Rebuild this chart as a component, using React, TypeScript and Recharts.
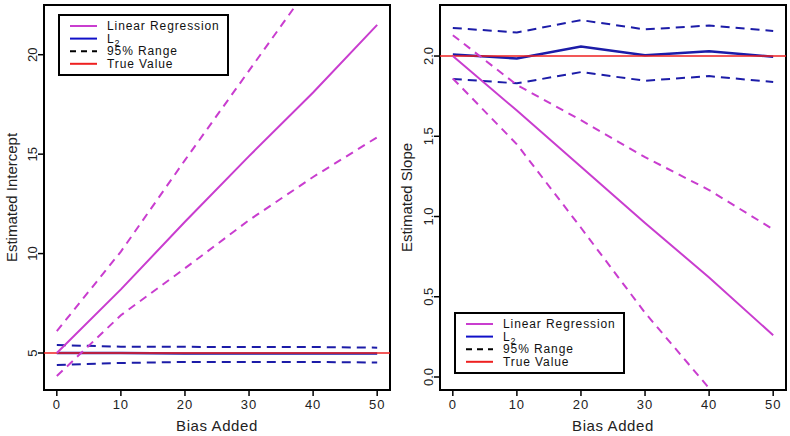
import {
  Legend,
  Line,
  LineChart,
  ReferenceArea,
  ReferenceLine,
  XAxis,
  YAxis,
} from "recharts"

const bias = [0, 10, 20, 30, 40, 50]

// intercept estimates
const lrIntercept = [5.0, 8.2, 11.6, 14.9, 18.1, 21.5]
const lrInterceptHi = [6.1, 10.1, 14.7, 19.2, 23.7, 28.0]
const lrInterceptLo = [3.84, 6.9, 9.26, 11.68, 13.85, 15.85]
const l2Intercept = [5.0, 5.0, 4.98, 4.98, 4.98, 4.98]
const l2InterceptHi = [5.4, 5.32, 5.31, 5.3, 5.3, 5.27]
const l2InterceptLo = [4.4, 4.5, 4.55, 4.55, 4.55, 4.52]

// slope estimates
const lrSlope = [2.0, 1.66, 1.31, 0.96, 0.62, 0.26]
const lrSlopeHi = [2.13, 1.82, 1.6, 1.37, 1.165, 0.92]
const lrSlopeLo = [1.86, 1.45, 0.93, 0.4, -0.07, -0.55]
const l2Slope = [2.01, 1.985, 2.06, 2.005, 2.03, 1.995]
const l2SlopeHi = [2.175, 2.147, 2.224, 2.166, 2.19, 2.156]
const l2SlopeLo = [1.857, 1.83, 1.9, 1.846, 1.875, 1.838]

const trueIntercept = 5
const trueSlope = 2

const xTicks = [0, 10, 20, 30, 40, 50]
const interceptTicks = [5, 10, 15, 20]
const slopeTicks = [0, 0.5, 1, 1.5, 2]

const MAGENTA = "#c93dcf"
const BLUE = "#1c1ca8"
const RED = "#ee2020"
const FONT = "'Liberation Sans', Arial, sans-serif"

const interceptRows = bias.map((b, i) => ({
  bias: b,
  lr: lrIntercept[i],
  lrHi: lrInterceptHi[i],
  lrLo: lrInterceptLo[i],
  l2: l2Intercept[i],
  l2Hi: l2InterceptHi[i],
  l2Lo: l2InterceptLo[i],
}))

const slopeRows = bias.map((b, i) => ({
  bias: b,
  lr: lrSlope[i],
  lrHi: lrSlopeHi[i],
  lrLo: lrSlopeLo[i],
  l2: l2Slope[i],
  l2Hi: l2SlopeHi[i],
  l2Lo: l2SlopeLo[i],
}))

const legendItems = [
  { label: "Linear Regression", sub: "", color: MAGENTA, dash: "" },
  { label: "L", sub: "2", color: "#1010c8", dash: "" },
  { label: "95% Range", sub: "", color: "#000", dash: "6 5" },
  { label: "True Value", sub: "", color: RED, dash: "" },
]

// legend drawn as svg so every row sits on a fixed baseline
function LegendBox() {
  const rowY = [12, 24.6, 37.2, 49.8]
  return (
    <svg width={171} height={62} style={{ display: "block" }}>
      <rect x={1} y={1} width={169} height={60} fill="#fff" stroke="#000" strokeWidth={2} />
      {legendItems.map((it, i) => (
        <g key={it.label}>
          <line
            x1={12}
            x2={39}
            y1={rowY[i]}
            y2={rowY[i]}
            stroke={it.color}
            strokeWidth={2}
            strokeDasharray={it.dash || undefined}
          />
          <text
            x={49}
            y={rowY[i] + 4}
            fontFamily={FONT}
            fontSize={12}
            letterSpacing={0.9}
            fill="#111"
          >
            {it.label}
            {it.sub && (
              <tspan fontSize={9} dy={3}>
                {it.sub}
              </tspan>
            )}
          </text>
        </g>
      ))}
    </svg>
  )
}

function RotatedTick(props: any) {
  const { x, y, payload, fmt } = props
  return (
    <text
      x={x + 1}
      y={y}
      transform={`rotate(-90 ${x + 1} ${y})`}
      textAnchor="middle"
      fontFamily={FONT}
      fontSize={13}
      fill="#222"
    >
      {fmt(payload.value)}
    </text>
  )
}

function YTitle({ text }: { text: string }) {
  return (props: any) => {
    const vb = props.viewBox
    const cx = vb.x + 17
    const cy = vb.y + vb.height / 2
    return (
      <text
        x={cx}
        y={cy}
        transform={`rotate(-90 ${cx} ${cy})`}
        textAnchor="middle"
        fontFamily={FONT}
        fontSize={15}
        fill="#222"
      >
        {text}
      </text>
    )
  }
}

type PanelProps = {
  rows: any[]
  domain: [number, number]
  ticks: number[]
  fmt: (v: number) => string
  title: string
  truth: number
  legendLeft: number
  legendTop: number
  yWidth: number
  right: number
}

function Panel({
  rows,
  domain,
  ticks,
  fmt,
  title,
  truth,
  legendLeft,
  legendTop,
  yWidth,
  right,
}: PanelProps) {
  return (
    <LineChart
      width={395}
      height={436}
      data={rows}
      margin={{ top: 5, right, bottom: 0, left: 0 }}
    >
      <XAxis
        dataKey="bias"
        type="number"
        domain={[-2, 52]}
        ticks={xTicks}
        axisLine={false}
        tickLine={{ stroke: "#000", strokeWidth: 1.5 }}
        tickSize={6}
        tickMargin={4}
        height={46}
        tick={{
          fill: "#222",
          fontFamily: FONT,
          fontSize: 13,
          letterSpacing: 1,
        }}
        label={{
          value: "Bias Added",
          position: "insideBottom",
          offset: 5,
          fill: "#222",
          fontFamily: FONT,
          fontSize: 15,
          letterSpacing: 0.6,
        }}
      />
      <YAxis
        type="number"
        domain={domain}
        allowDataOverflow
        ticks={ticks}
        width={yWidth}
        axisLine={false}
        tickLine={{ stroke: "#000", strokeWidth: 1.5 }}
        tickSize={6}
        tickMargin={2}
        tick={<RotatedTick fmt={fmt} />}
        label={{ content: YTitle({ text: title }) }}
      />
      <Line
        dataKey="l2"
        stroke={BLUE}
        strokeWidth={2.5}
        dot={false}
        isAnimationActive={false}
      />
      <Line
        dataKey="l2Hi"
        stroke={BLUE}
        strokeWidth={2}
        strokeDasharray="9 6"
        dot={false}
        isAnimationActive={false}
      />
      <Line
        dataKey="l2Lo"
        stroke={BLUE}
        strokeWidth={2}
        strokeDasharray="9 6"
        dot={false}
        isAnimationActive={false}
      />
      <ReferenceLine y={truth} stroke={RED} strokeWidth={1.5} />
      <Line
        dataKey="lr"
        stroke={MAGENTA}
        strokeWidth={2}
        dot={false}
        isAnimationActive={false}
      />
      <Line
        dataKey="lrHi"
        stroke={MAGENTA}
        strokeWidth={2}
        strokeDasharray="8 6"
        dot={false}
        isAnimationActive={false}
      />
      <Line
        dataKey="lrLo"
        stroke={MAGENTA}
        strokeWidth={2}
        strokeDasharray="8 6"
        dot={false}
        isAnimationActive={false}
      />
      <ReferenceArea
        x1={-2}
        x2={52}
        y1={domain[0]}
        y2={domain[1]}
        fill="none"
        stroke="#000"
        strokeWidth={2}
        ifOverflow="visible"
      />
      <Legend
        layout="horizontal"
        verticalAlign="middle"
        align="center"
        wrapperStyle={{ left: legendLeft, top: legendTop, width: "auto" }}
        content={() => <LegendBox />}
      />
    </LineChart>
  )
}

export default function App() {
  return (
    <div
      style={{
        position: "absolute",
        left: 0,
        top: 0,
        width: 790,
        height: 436,
        background: "#fff",
        display: "flex",
      }}
    >
      <Panel
        rows={interceptRows}
        domain={[3.14, 22.5]}
        ticks={interceptTicks}
        fmt={(v) => String(v)}
        title="Estimated Intercept"
        truth={trueIntercept}
        legendLeft={58}
        legendTop={14}
        yWidth={44}
        right={5}
      />
      <Panel
        rows={slopeRows}
        domain={[-0.081, 2.318]}
        ticks={slopeTicks}
        fmt={(v) => v.toFixed(1)}
        title="Estimated Slope"
        truth={trueSlope}
        legendLeft={59}
        legendTop={312}
        yWidth={45}
        right={4}
      />
    </div>
  )
}
